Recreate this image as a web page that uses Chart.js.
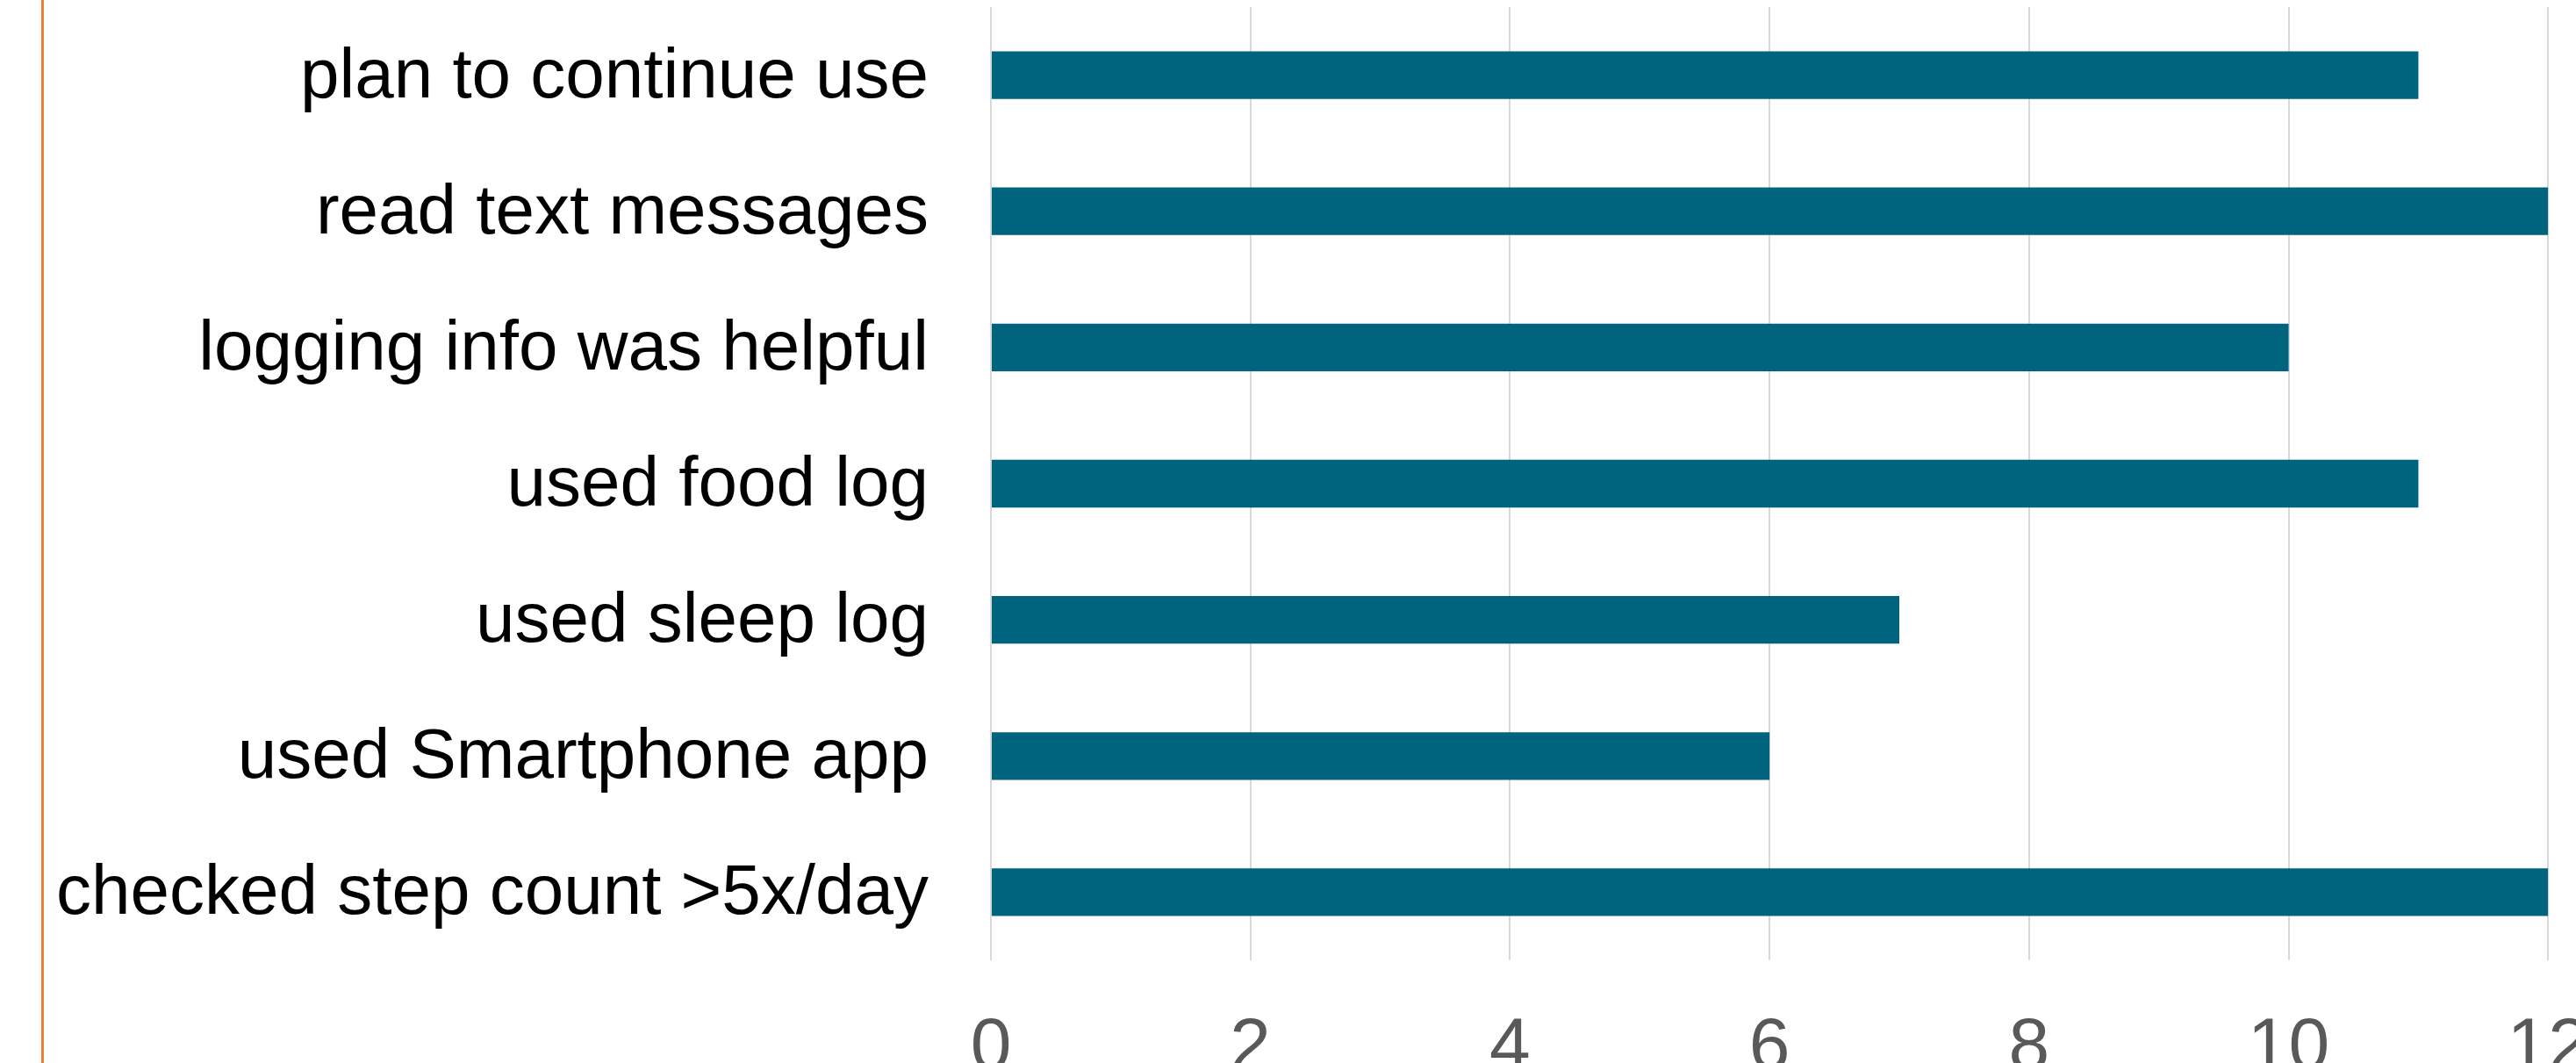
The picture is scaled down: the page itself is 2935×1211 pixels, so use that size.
<!DOCTYPE html>
<html>
<head>
<meta charset="utf-8">
<script src="https://cdn.jsdelivr.net/npm/chart.js@4"></script>
<style>
  html, body { margin: 0; padding: 0; background: #fff; overflow: hidden; }
  #wrap { position: relative; width: 2935px; height: 1211px; overflow: hidden; }
  #edge { position: absolute; left: 47px; top: 0; width: 3px; height: 1211px; background: #F07E2F; }
  #chart { position: absolute; left: 0; top: 0; }
</style>
</head>
<body>
<div id="wrap">
  <div id="edge"></div>
  <canvas id="chart" width="3000" height="1300"></canvas>
</div>
<script>
  // survey items, top to bottom
  const categories = [
    'plan to continue use',
    'read text messages',
    'logging info was helpful',
    'used food log',
    'used sleep log',
    'used Smartphone app',
    'checked step count >5x/day'
  ];
  const counts = [11, 12, 10, 11, 7, 6, 12];
  const xTicks = [0, 2, 4, 6, 8, 10, 12];

  const BAR_COLOR = '#00647f';
  const GRID_COLOR = '#d9d9d9';
  const FONT = 'Liberation Sans, Arial, sans-serif';

  new Chart(document.getElementById('chart'), {
    type: 'bar',
    data: {
      labels: categories,
      datasets: [{
        data: counts,
        backgroundColor: BAR_COLOR,
        borderWidth: 0,
        barPercentage: 0.7,
        categoryPercentage: 0.5
      }]
    },
    options: {
      indexAxis: 'y',
      responsive: false,
      animation: false,
      devicePixelRatio: 1,
      layout: { padding: { top: 8, right: 93, bottom: 0, left: 0 } },
      plugins: { legend: { display: false }, tooltip: { enabled: false } },
      scales: {
        x: {
          min: xTicks[0],
          max: xTicks[xTicks.length - 1],
          afterBuildTicks: (scale) => { scale.ticks = xTicks.map(v => ({ value: v })); },
          afterFit: (scale) => { scale.height = 206; },
          grid: { color: GRID_COLOR, lineWidth: 2, drawTicks: false },
          border: { display: false },
          ticks: {
            color: '#595959',
            padding: 50,
            maxRotation: 0,
            font: { family: FONT, size: 84 }
          }
        },
        y: {
          afterFit: (scale) => {
            scale.width = 1129;
            scale.paddingTop = 0;
            scale.paddingBottom = 0;
          },
          grid: { display: false, drawTicks: false },
          border: { display: false },
          ticks: {
            color: '#000000',
            padding: 71,
            labelOffset: 3,
            font: { family: FONT, size: 80 }
          }
        }
      }
    }
  });
</script>
</body>
</html>
